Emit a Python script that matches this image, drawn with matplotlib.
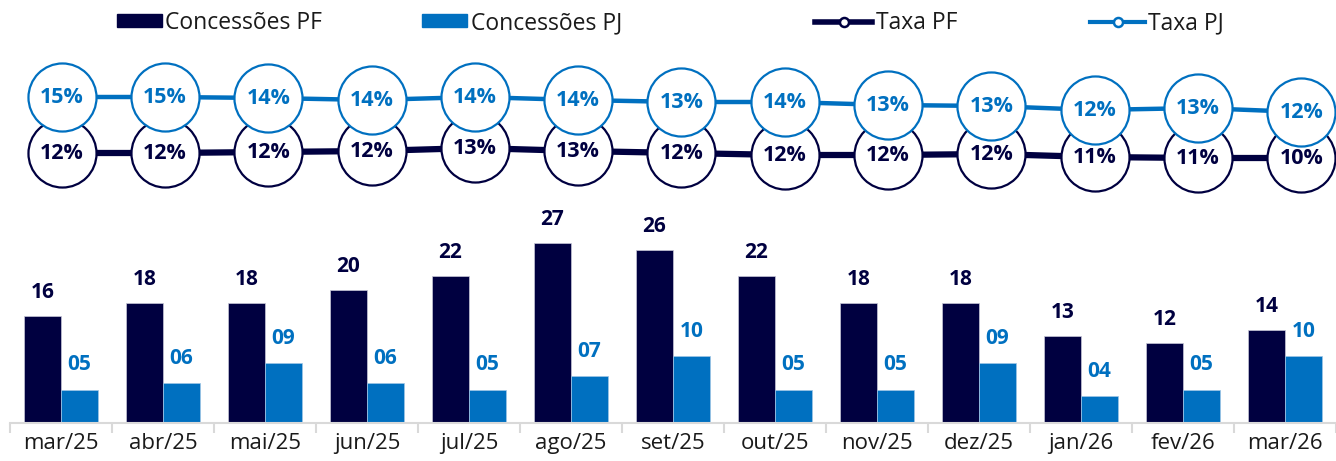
import matplotlib
matplotlib.use("Agg")
import matplotlib.pyplot as plt
from matplotlib.lines import Line2D
from matplotlib.patches import Patch
import numpy as np

months = ["mar/25", "abr/25", "mai/25", "jun/25", "jul/25", "ago/25", "set/25",
          "out/25", "nov/25", "dez/25", "jan/26", "fev/26", "mar/26"]
conc_pf = [16, 18, 18, 20, 22, 27, 26, 22, 18, 18, 13, 12, 14]
conc_pj = [5, 6, 9, 6, 5, 7, 10, 5, 5, 9, 4, 5, 10]
taxa_pf = [12.1, 12.1, 12.3, 12.5, 13.1, 12.5, 12.1, 11.7, 11.7, 11.9, 11.3, 11.1, 11.1]
taxa_pj = [14.5, 14.5, 14.3, 13.9, 14.5, 13.9, 13.5, 13.5, 12.9, 12.7, 11.9, 12.3, 11.5]
taxa_pf_lbl = ["12%", "12%", "12%", "12%", "13%", "13%", "12%", "12%", "12%", "12%", "11%", "11%", "10%"]
taxa_pj_lbl = ["15%", "15%", "14%", "14%", "14%", "14%", "13%", "14%", "13%", "13%", "12%", "13%", "12%"]
legend_labels = ["Concessões PF", "Concessões PJ", "Taxa PF", "Taxa PJ"]

C_PF = "#000040"
C_PJ = "#0070C0"
FONT = "Open Sans"
plt.rcParams['font.family'] = [FONT, 'DejaVu Sans']

W, H = 1336, 461
fig = plt.figure(figsize=(W / 100, H / 100), dpi=100)

x = np.arange(len(months))
cat_px = 103.3
left_px = 10
xmax = 11.5 + (W - (left_px + 12 * cat_px)) / cat_px

def px_axes(y_top, y_bot):
    return fig.add_axes([left_px / W, 1 - y_bot / H, (W - left_px) / W, (y_bot - y_top) / H])

# ---- bars ----
axb = px_axes(223, 423)
bw = 0.365
axb.bar(x - bw / 2, conc_pf, bw, color=C_PF, edgecolor="#c8c8d8", linewidth=0.5)
axb.bar(x + bw / 2, conc_pj, bw, color=C_PJ, edgecolor="#9fc6e6", linewidth=0.5)
axb.set_xlim(-0.5, xmax)
axb.set_ylim(0, 30)
for s in ["top", "right", "left"]:
    axb.spines[s].set_visible(False)
axb.spines["bottom"].set_color("#d9d9d9")
axb.spines["bottom"].set_linewidth(1.5)
axb.set_yticks([])
axb.set_xticks(np.arange(-0.5, 12.6, 1), minor=True)
axb.set_xticks(x)
axb.set_xticklabels(months, fontsize=16, color="#1a1a1a")
axb.tick_params(axis="x", which="major", length=0, pad=7)
axb.tick_params(axis="x", which="minor", length=7, width=1.5, color="#d9d9d9")
for i in range(len(months)):
    axb.annotate(f"{conc_pf[i]:02d}", (x[i] - bw / 2, conc_pf[i]), xytext=(0, 17),
                 textcoords="offset points", ha="center", va="center",
                 fontsize=15, fontweight="bold", color=C_PF, annotation_clip=False)
    axb.annotate(f"{conc_pj[i]:02d}", (x[i] + bw / 2, conc_pj[i]), xytext=(0, 18),
                 textcoords="offset points", ha="center", va="center",
                 fontsize=15, fontweight="bold", color=C_PJ, annotation_clip=False)

# ---- lines ----
k = 5.0
yt, yb = 40, 200
axpf = px_axes(yt, yb)
axpf.set_ylim(12.5 - (yb - 151) / k, 12.5 + (151 - yt) / k)
axpj = px_axes(yt, yb)
axpj.set_ylim(14.5 - (yb - 97) / k, 14.5 + (97 - yt) / k)
for ax, vals, lbls, col, lw in [(axpf, taxa_pf, taxa_pf_lbl, C_PF, 4.5),
                                (axpj, taxa_pj, taxa_pj_lbl, C_PJ, 3.2)]:
    ax.plot(x, vals, color=col, lw=lw, marker="o", markersize=49,
            markerfacecolor="white", markeredgecolor=col, markeredgewidth=1.6, clip_on=False)
    for i in range(len(x)):
        ax.text(x[i], vals[i], lbls[i], ha="center", va="center", fontsize=15.5,
                fontweight="bold", color=col, clip_on=False)
    ax.set_xlim(-0.5, xmax)
    ax.axis("off")
    ax.patch.set_visible(False)

# ---- legend (four separately placed entries) ----
handles = [Patch(facecolor=C_PF, edgecolor=C_PF),
           Patch(facecolor=C_PJ, edgecolor=C_PJ),
           Line2D([], [], color=C_PF, lw=4, marker="o", markersize=6.5,
                  markerfacecolor="white", markeredgecolor=C_PF, markeredgewidth=1.8),
           Line2D([], [], color=C_PJ, lw=3, marker="o", markersize=6.5,
                  markerfacecolor="white", markeredgecolor=C_PJ, markeredgewidth=1.8)]
starts_px = [117, 422, 815, 1090]
hlens = [1.95, 1.98, 2.5, 2.4]
for h, lab, sx, hl in zip(handles, legend_labels, starts_px, hlens):
    fig.legend([h], [lab], loc="center left", bbox_to_anchor=(sx / W, 1 - 23 / H),
               frameon=False, fontsize=16.5, handlelength=hl, handleheight=0.5,
               handletextpad=0.15, borderpad=0, borderaxespad=0, labelcolor="#1a1a1a")

fig.savefig("out.png", dpi=100)
